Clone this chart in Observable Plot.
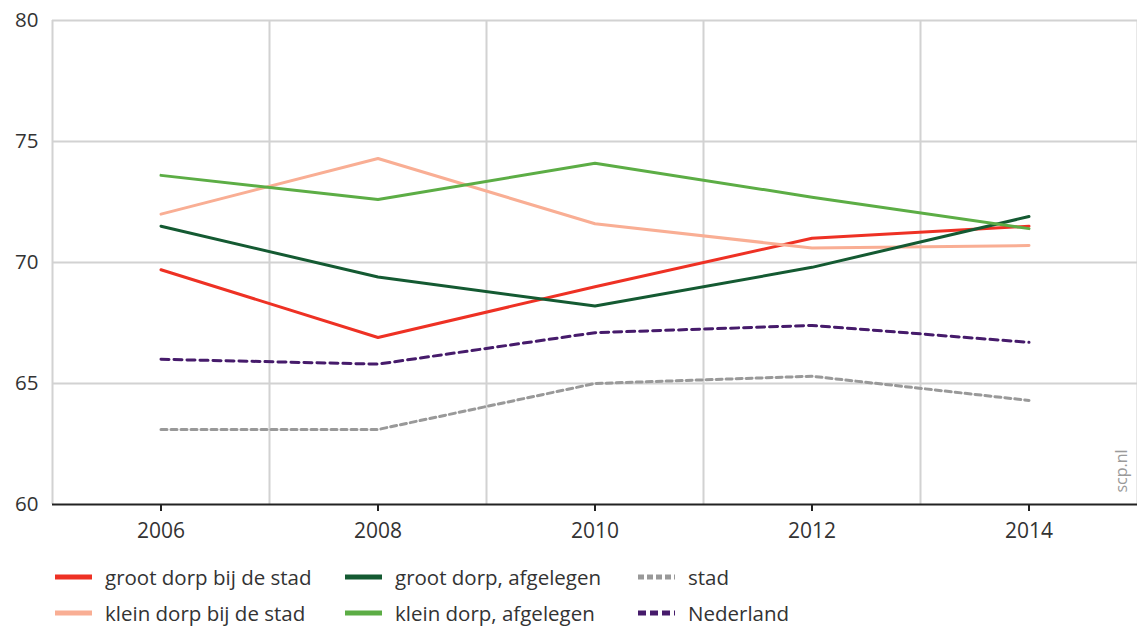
<!DOCTYPE html>
<html>
<head>
<meta charset="utf-8">
<script src="https://cdn.jsdelivr.net/npm/d3@7"></script>
<script src="https://cdn.jsdelivr.net/npm/@observablehq/plot@0.6"></script>
<style>
  body { margin: 0; background: #fff; font-family: "Open Sans", sans-serif; }
  #wrap { position: relative; width: 1137px; height: 626px; }
  .leg { position: absolute; display: flex; align-items: center; font-size: 20.5px; color: #333; white-space: nowrap; }
  .leg svg { margin-right: 12px; }
</style>
</head>
<body>
<div id="wrap"></div>
<script>
const years = [2006, 2008, 2010, 2012, 2014];
const seriesNames = ["groot dorp bij de stad", "klein dorp bij de stad", "groot dorp, afgelegen", "klein dorp, afgelegen", "stad", "Nederland"];
const grootDorpBijStad   = [69.7, 66.9, 69.0, 71.0, 71.5];
const kleinDorpBijStad   = [72.0, 74.3, 71.6, 70.6, 70.7];
const grootDorpAfgelegen = [71.5, 69.4, 68.2, 69.8, 71.9];
const kleinDorpAfgelegen = [73.6, 72.6, 74.1, 72.7, 71.4];
const stad               = [63.1, 63.1, 65.0, 65.3, 64.3];
const nederland          = [66.0, 65.8, 67.1, 67.4, 66.7];
const yTicks = [60, 65, 70, 75, 80];
const xTicks = [2006, 2008, 2010, 2012, 2014];
const xGrid = [2005, 2007, 2009, 2011, 2013, 2015];

const colors = ["#ee3124", "#f9ae94", "#145a32", "#5cad45", "#999999", "#461b6b"];
const dashes = [null, null, null, null, "6,4", "8,5"];
const valuesList = [grootDorpBijStad, kleinDorpBijStad, grootDorpAfgelegen, kleinDorpAfgelegen, stad, nederland];

const rows = [];
seriesNames.forEach((s, i) => years.forEach((yr, j) => rows.push({series: s, year: yr, value: valuesList[i][j]})));

const lineMarks = seriesNames.map((s, i) =>
  Plot.line(rows.filter(d => d.series === s), {
    x: "year", y: "value", stroke: colors[i], strokeWidth: 3,
    strokeDasharray: dashes[i] || undefined
  })
);

const chart = Plot.plot({
  width: 1137,
  height: 548,
  marginLeft: 52,
  marginRight: 0,
  marginTop: 20,
  marginBottom: 44,
  style: { fontFamily: "Open Sans, sans-serif", fontSize: "20px", color: "#333", background: "#fff", overflow: "visible" },
  x: { domain: [2005, 2015] },
  y: { domain: [60, 80] },
  marks: [
    Plot.gridX(xGrid, { stroke: "#d2d2d2", strokeOpacity: 1, strokeWidth: 2 }),
    Plot.gridY([65, 70, 75, 80], { stroke: "#d2d2d2", strokeOpacity: 1, strokeWidth: 2 }),
    Plot.axisY(yTicks, { tickSize: 0, tickPadding: 14, label: null, fill: "#333", fontSize: 20.5 }),
    Plot.axisX(xTicks, { tickSize: 7, tickPadding: 12, label: null, tickFormat: d => String(d), stroke: "#222", strokeWidth: 2, fill: "#333", fontSize: 21 }),
    Plot.ruleY([60], { stroke: "#222", strokeWidth: 2 }),
    ...lineMarks,
    Plot.text(["scp.nl"], { frameAnchor: "bottom-right", dx: -11, dy: -12, rotate: -90, fill: "#9a9a9a", fontSize: 16, textAnchor: "start" })
  ]
});

const wrap = document.getElementById("wrap");
wrap.appendChild(chart);

const legendPos = [
  [55, 577], [55, 613], [345, 577], [345, 613], [638, 577], [638, 613]
];
seriesNames.forEach((s, i) => {
  const div = document.createElement("div");
  div.className = "leg";
  div.style.left = legendPos[i][0] + "px";
  div.style.top = (legendPos[i][1] - 14) + "px";
  div.style.height = "28px";
  const dash = dashes[i] ? `stroke-dasharray="${i === 4 ? '6,3' : '8,4'}"` : "";
  div.innerHTML = `<svg width="38" height="10"><line x1="0" y1="5" x2="37" y2="5" stroke="${colors[i]}" stroke-width="5" ${dash}/></svg><span>${s}</span>`;
  wrap.appendChild(div);
});
</script>
</body>
</html>
